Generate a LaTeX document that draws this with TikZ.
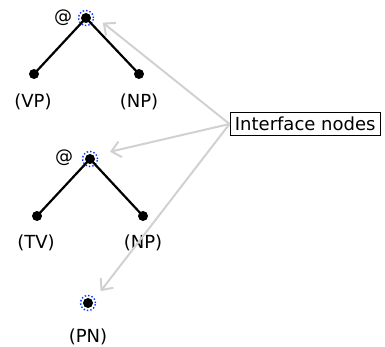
\documentclass[tikz,border=0pt]{standalone}
\usepackage{fontspec}
\setmainfont{DejaVu Sans}
\usetikzlibrary{arrows.meta}
\begin{document}
\begin{tikzpicture}[x=1pt,y=-1pt,
  every node/.style={font=\fontsize{18}{21}\selectfont},
  dotnode/.style={circle,fill=black,inner sep=0pt,minimum size=10pt},
  iface/.style={dotnode,append after command={\pgfextra{\draw[blue!80!cyan,dotted,line width=1.4pt] (\tikzlastnode.center) circle[radius=7.5pt];}}},
  edge/.style={line width=2.2pt,black},
  lbl/.style={inner sep=0pt},
  pointer/.style={draw=black!18,line width=2pt,-{Straight Barb[length=9pt,width=16pt,line width=2pt]}, shorten >=1pt}
]
\useasboundingbox (0,0) rectangle (385,347);
% tree 1
\node[iface] (r1) at (86,18) {};
\node[dotnode] (l1) at (34,74) {};
\node[dotnode] (c1) at (139,74) {};
\node[lbl] (a1) at (63,18) {@};
\draw[edge] (r1.center) -- (l1.center);
\draw[edge] (r1.center) -- (c1.center);
\node[lbl] (vp) at (33,102) {(VP)};
\node[lbl] (np1) at (139,102) {(NP)};
% tree 2
\node[iface] (r2) at (90,159) {};
\node[dotnode] (l2) at (37,216) {};
\node[dotnode] (c2) at (143,216) {};
\node[lbl] (a2) at (64,158) {@};
\draw[edge] (r2.center) -- (l2.center);
\draw[edge] (r2.center) -- (c2.center);
\node[lbl] (tv) at (36,243) {(TV)};
\node[lbl] (np2) at (143,243) {(NP)};
% single
\node[iface] (pn) at (88,303) {};
\node[lbl] (pnl) at (88,337) {(PN)};
% box
\node[draw=black,line width=0.8pt,inner xsep=5pt,inner ysep=4.5pt,anchor=west] (box) at (229.5,124) {Interface nodes};
\coordinate (t1) at (102,22);
\coordinate (t2) at (109,152);
\coordinate (t3) at (100,292);
\draw[pointer] (box.west) -- (t1);
\draw[pointer] (box.west) -- (t2);
\draw[pointer] (box.west) -- (t3);
\end{tikzpicture}
\end{document}
